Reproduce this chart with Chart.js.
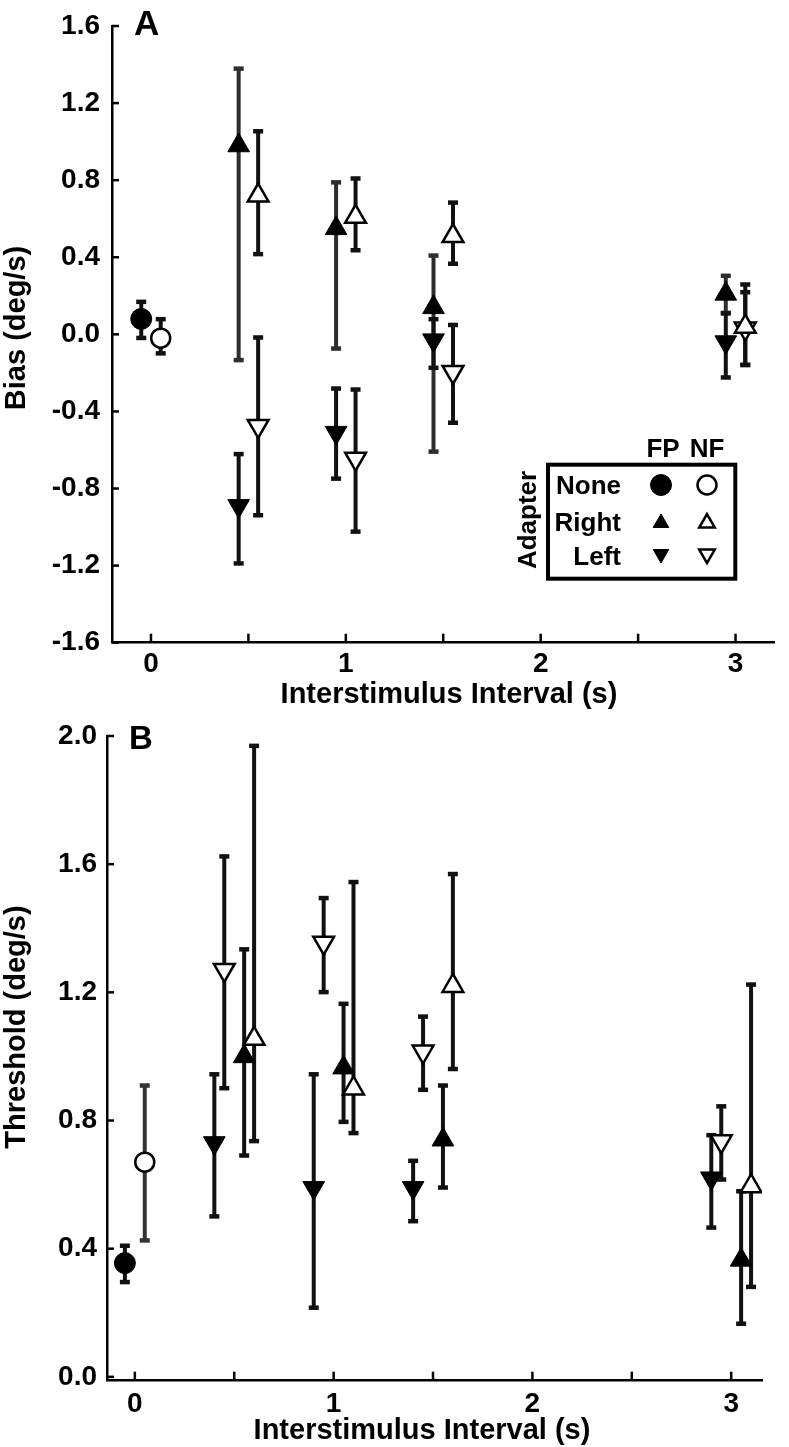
<!DOCTYPE html>
<html lang="en">
<head>
<meta charset="UTF-8">
<title>Bias and threshold vs interstimulus interval</title>
<style>
  body { margin: 0; background: #fff; }
  canvas { position: absolute; left: 0; }
</style>
<script src="https://cdn.jsdelivr.net/npm/chart.js"></script>
</head>
<body>
<canvas id="chartA" width="789" height="712" style="top:0"></canvas>
<canvas id="chartB" width="789" height="735" style="top:712px"></canvas>
<script>
// shared x axis (interstimulus interval, s)
const isiTicks = [0, 0.5, 1, 1.5, 2, 2.5, 3];
const isiTickLabels = ['0', '', '1', '', '2', '', '3'];

// ---- panel A: bias (deg/s) ----
const biasTicks = [-1.6, -1.2, -0.8, -0.4, 0, 0.4, 0.8, 1.2, 1.6];
const biasTickLabels = ['-1.6', '-1.2', '-0.8', '-0.4', '0.0', '0.4', '0.8', '1.2', '1.6'];

const biasFpNone  = { x: [-0.05], y: [0.08],  lo: [-0.02], hi: [0.17] };
const biasNfNone  = { x: [0.05],  y: [-0.02], lo: [-0.10], hi: [0.08] };
const biasFpRight = { x: [0.45, 0.95, 1.45, 2.95], y: [0.98, 0.55, 0.14, 0.21],
                      lo: [-0.135, -0.075, -0.61, 0.11], hi: [1.38, 0.79, 0.41, 0.305] };
const biasNfRight = { x: [0.55, 1.05, 1.55, 3.05], y: [0.72, 0.61, 0.51, 0.04],
                      lo: [0.415, 0.435, 0.365, -0.16], hi: [1.055, 0.81, 0.685, 0.26] };
const biasFpLeft  = { x: [0.45, 0.95, 1.45, 2.95], y: [-0.89, -0.51, -0.03, -0.04],
                      lo: [-1.19, -0.75, -0.175, -0.225], hi: [-0.62, -0.28, 0.08, 0.11] };
const biasNfLeft  = { x: [0.55, 1.05, 1.55, 3.05], y: [-0.475, -0.645, -0.195, 0.03],
                      lo: [-0.94, -1.025, -0.46, -0.16], hi: [-0.015, -0.285, 0.05, 0.22] };

// ---- panel B: threshold (deg/s) ----
const threshTicks = [0, 0.4, 0.8, 1.2, 1.6, 2.0];
const threshTickLabels = ['0.0', '0.4', '0.8', '1.2', '1.6', '2.0'];

const threshFpNone  = { x: [-0.05], y: [0.355], lo: [0.295], hi: [0.41] };
const threshNfNone  = { x: [0.05],  y: [0.67],  lo: [0.425], hi: [0.91] };
const threshFpRight = { x: [0.55, 1.05, 1.55, 3.05], y: [1.0, 0.965, 0.74, 0.365],
                        lo: [0.69, 0.795, 0.59, 0.165], hi: [1.335, 1.165, 0.91, 0.58] };
const threshNfRight = { x: [0.6, 1.1, 1.6, 3.1], y: [1.055, 0.9, 1.22, 0.595],
                        lo: [0.735, 0.76, 0.96, 0.28], hi: [1.97, 1.545, 1.57, 1.225] };
const threshFpLeft  = { x: [0.4, 0.9, 1.4, 2.9], y: [0.73, 0.59, 0.59, 0.62],
                        lo: [0.5, 0.215, 0.485, 0.465], hi: [0.945, 0.945, 0.675, 0.755] };
const threshNfLeft  = { x: [0.45, 0.95, 1.45, 2.95], y: [1.27, 1.355, 1.015, 0.735],
                        lo: [0.9, 1.2, 0.895, 0.615], hi: [1.625, 1.495, 1.125, 0.845] };

const FONT = '"Liberation Sans", Arial, Helvetica, sans-serif';

// marker looks
const fpCircle = { pointStyle: 'circle', pointRadius: 10.5, pointRotation: 0, pointBackgroundColor: '#000', pointBorderColor: '#000', pointBorderWidth: 1 };
const nfCircle = { pointStyle: 'circle', pointRadius: 9.5, pointRotation: 0, pointBackgroundColor: '#fff', pointBorderColor: '#000', pointBorderWidth: 2.5 };
const fpUp   = { pointStyle: 'triangle', pointRadius: 12.5, pointRotation: 0, pointBackgroundColor: '#000', pointBorderColor: '#000', pointBorderWidth: 1 };
const nfUp   = { pointStyle: 'triangle', pointRadius: 12, pointRotation: 0, pointBackgroundColor: '#fff', pointBorderColor: '#000', pointBorderWidth: 2.5 };
const fpDown = Object.assign({}, fpUp, { pointRotation: 180 });
const nfDown = Object.assign({}, nfUp, { pointRotation: 180 });

function series(s, look, barColor) {
  return Object.assign({
    data: s.x.map((x, i) => ({ x: x, y: s.y[i] })),
    lo: s.lo, hi: s.hi, barColor: barColor || '#111',
    showLine: false, pointHoverRadius: 0
  }, look);
}

// vertical error bars with small square caps, under the markers
const errorBars = {
  id: 'errorBars',
  beforeDatasetsDraw(chart) {
    const { ctx, scales: { x, y } } = chart;
    ctx.save();
    chart.data.datasets.forEach(ds => {
      ds.data.forEach((p, i) => {
        const px = x.getPixelForValue(p.x);
        const top = y.getPixelForValue(ds.hi[i]);
        const bot = y.getPixelForValue(ds.lo[i]);
        ctx.strokeStyle = ds.barColor;
        ctx.fillStyle = ds.barColor;
        ctx.lineWidth = 4;
        ctx.beginPath();
        ctx.moveTo(px, top);
        ctx.lineTo(px, bot);
        ctx.stroke();
        ctx.fillRect(px - 5, top - 2, 10, 4.5);
        ctx.fillRect(px - 5, bot - 2.5, 10, 4.5);
      });
    });
    ctx.restore();
  }
};

// tick marks pointing into the plot, axis titles and panel letter
const decorations = {
  id: 'decorations',
  afterDraw(chart, args, o) {
    const { ctx, chartArea: a, scales: { x, y } } = chart;
    ctx.save();
    ctx.strokeStyle = '#000';
    ctx.lineWidth = 2.5;
    x.ticks.forEach(t => {
      const px = x.getPixelForValue(t.value);
      ctx.beginPath(); ctx.moveTo(px, a.bottom); ctx.lineTo(px, a.bottom - 9); ctx.stroke();
    });
    y.ticks.forEach(t => {
      const py = y.getPixelForValue(t.value);
      ctx.beginPath(); ctx.moveTo(a.left, py); ctx.lineTo(a.left + 7, py); ctx.stroke();
    });

    ctx.fillStyle = '#000';
    ctx.textBaseline = 'alphabetic';
    ctx.font = 'bold 29px ' + FONT;
    ctx.textAlign = 'center';
    ctx.fillText(o.xTitle, o.xTitleX, o.xTitleY);
    ctx.save();
    ctx.translate(o.yTitleX, o.yTitleY);
    ctx.rotate(-Math.PI / 2);
    ctx.fillText(o.yTitle, 0, 0);
    ctx.restore();

    ctx.textAlign = 'left';
    ctx.font = 'bold ' + o.letterSize + 'px ' + FONT;
    ctx.fillText(o.letter, o.letterX, o.letterY);
    ctx.restore();
  }
};

// boxed key: rows = adapter, columns = FP / NF
const legendRows = ['None', 'Right', 'Left'];
const legendBox = {
  id: 'legendBox',
  afterDraw(chart, args, o) {
    if (!o.show) return;
    const ctx = chart.ctx;
    ctx.save();
    ctx.strokeStyle = '#000';
    ctx.lineWidth = 4;
    ctx.strokeRect(548, 464.7, 187.3, 114);
    ctx.fillStyle = '#000';
    ctx.font = 'bold 26px ' + FONT;
    ctx.textBaseline = 'alphabetic';
    ctx.textAlign = 'center';
    ctx.fillText('FP', 663, 457);
    ctx.fillText('NF', 707, 457);
    ctx.textAlign = 'right';
    const rowY = [485, 521.5, 555.5];
    const looks = [[fpCircle, nfCircle], [fpUp, nfUp], [fpDown, nfDown]];
    legendRows.forEach((name, r) => {
      ctx.fillStyle = '#000';
      ctx.fillText(name, 621, rowY[r] + 9);
      looks[r].forEach((lk, c) => {
        const small = lk.pointStyle === 'triangle';
        ctx.fillStyle = lk.pointBackgroundColor;
        ctx.strokeStyle = lk.pointBorderColor;
        ctx.lineWidth = lk.pointBorderWidth;
        Chart.helpers.drawPoint(ctx, {
          pointStyle: lk.pointStyle,
          rotation: lk.pointRotation,
          radius: small ? 9 : (c === 0 ? 10.5 : 9.5),
          borderWidth: lk.pointBorderWidth
        }, c === 0 ? 661 : 707, rowY[r] + (small ? (lk.pointRotation ? -1.5 : 1.5) : 0));
      });
    });
    ctx.save();
    ctx.translate(536, 520);
    ctx.rotate(-Math.PI / 2);
    ctx.textAlign = 'center';
    ctx.fillStyle = '#000';
    ctx.fillText('Adapter', 0, 0);
    ctx.restore();
    ctx.restore();
  }
};

function makeChart(id, cfg) {
  const tickFont = { family: FONT, size: 28, weight: 'bold', lineHeight: 1 };
  return new Chart(document.getElementById(id), {
    type: 'scatter',
    data: { datasets: cfg.datasets },
    options: {
      responsive: false,
      animation: false,
      events: [],
      layout: { padding: cfg.padding },
      plugins: {
        legend: { display: false },
        tooltip: { enabled: false },
        decorations: cfg.deco,
        legendBox: { show: cfg.showKey }
      },
      scales: {
        x: {
          type: 'linear', min: cfg.xMin, max: cfg.xMax,
          afterBuildTicks: s => { s.ticks = isiTicks.map(v => ({ value: v })); },
          afterFit: s => { s.height = cfg.xHeight; },
          ticks: { callback: (v, i) => isiTickLabels[i], font: tickFont, color: '#000',
                   padding: cfg.xPad, maxRotation: 0, autoSkip: false },
          grid: { display: true, drawOnChartArea: false, drawTicks: false },
          border: { color: '#000', width: 2.5 }
        },
        y: {
          type: 'linear', min: cfg.yMin, max: cfg.yMax,
          afterBuildTicks: s => { s.ticks = cfg.yTicks.map(v => ({ value: v })); },
          afterFit: s => { s.width = cfg.yWidth; },
          ticks: { callback: (v, i) => cfg.yTickLabels[i], font: tickFont, color: '#000',
                   padding: cfg.yPad, autoSkip: false },
          grid: { display: true, drawOnChartArea: false, drawTicks: false },
          border: { color: '#000', width: 2.5 }
        }
      }
    },
    plugins: [errorBars, decorations, legendBox]
  });
}

makeChart('chartA', {
  datasets: [
    series(biasFpNone, fpCircle),
    series(biasNfNone, nfCircle),
    series(biasFpRight, fpUp, '#2e2e2e'),
    series(biasNfRight, nfUp),
    series(biasFpLeft, fpDown),
    series(biasNfLeft, nfDown)
  ],
  xMin: -0.2, xMax: 3.2, xHeight: 69.3, xPad: 8,
  yMin: -1.6, yMax: 1.6, yTicks: biasTicks, yTickLabels: biasTickLabels, yWidth: 112, yPad: 12,
  padding: { top: 15, right: 2, bottom: 0, left: 0 },
  showKey: true,
  deco: { xTitle: 'Interstimulus Interval (s)', xTitleX: 449, xTitleY: 703,
          yTitle: 'Bias (deg/s)', yTitleX: 25, yTitleY: 328,
          letter: 'A', letterX: 134, letterY: 35, letterSize: 35 }
});

makeChart('chartB', {
  datasets: [
    series(threshFpNone, fpCircle),
    series(threshNfNone, nfCircle, '#333'),
    series(threshFpRight, fpUp),
    series(threshNfRight, nfUp),
    series(threshFpLeft, fpDown),
    series(threshNfLeft, nfDown)
  ],
  xMin: -0.14, xMax: 3.155, xHeight: 66.3, xPad: 10,
  yMin: -0.012, yMax: 2.0, yTicks: threshTicks, yTickLabels: threshTickLabels, yWidth: 107, yPad: 10,
  padding: { top: 12.3, right: 27, bottom: 0, left: 0 },
  showKey: false,
  deco: { xTitle: 'Interstimulus Interval (s)', xTitleX: 422, xTitleY: 727,
          yTitle: 'Threshold (deg/s)', yTitleX: 25, yTitleY: 315,
          letter: 'B', letterX: 129, letterY: 37, letterSize: 33 }
});
</script>
</body>
</html>
